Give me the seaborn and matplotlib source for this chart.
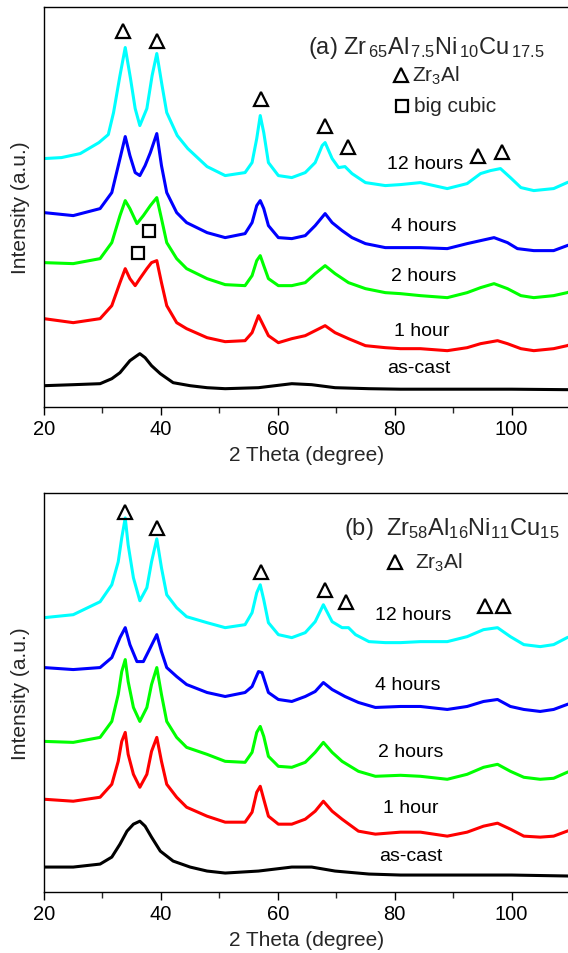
import numpy as np
import pandas as pd
import matplotlib
matplotlib.use("Agg")
import matplotlib.pyplot as plt
import seaborn as sns

# ---------------- data ----------------
# Panel (a) Zr65Al7.5Ni10Cu17.5 ; intensities in arbitrary units (stacked)
a_12h_t = [20.0, 23.0, 26.2, 29.4, 31.0, 31.9, 33.0, 33.9, 34.8, 35.6, 36.4, 37.6, 38.5, 39.3, 40.2, 41.0, 42.8, 44.6, 47.9,
           51.0, 54.4, 55.6, 56.4, 57.0, 57.6, 58.4, 60.1, 62.4, 64.7, 66.4, 67.6, 68.1, 69.3, 70.4, 71.5, 72.7, 75.0, 78.4,
           81.0, 84.4, 89.0, 92.4, 94.7, 96.4, 98.1, 99.8, 101.6, 103.8, 107.2, 109.5, 110.0]
a_12h_i = [248, 249, 253, 264, 272, 294, 331, 359, 328, 298, 281, 298, 331, 353, 321, 294, 271, 258, 240,
           231, 234, 244, 268, 291, 274, 244, 231, 229, 234, 244, 261, 264, 248, 239, 240, 233, 224, 221,
           222, 224, 218, 223, 233, 236, 238, 229, 219, 216, 218, 224, 225]

a_4h_t = [20.0, 25.0, 29.6, 31.6, 33.0, 33.9, 34.7, 35.6, 36.4, 37.3, 38.2, 39.3, 40.1, 41.0, 42.7, 44.4, 47.9,
          51.0, 54.4, 55.6, 56.4, 57.0, 57.6, 58.4, 60.1, 62.4, 64.7, 66.4, 68.1, 69.3, 71.0, 72.7, 75.0, 78.4,
          81.0, 84.4, 89.0, 92.4, 94.7, 97.0, 99.3, 101.0, 103.8, 107.2, 109.5, 110.0]
a_4h_i = [194, 191, 198, 214, 248, 270, 251, 234, 231, 241, 254, 273, 241, 214, 194, 184, 174,
          169, 173, 184, 201, 206, 198, 181, 169, 168, 171, 181, 193, 184, 176, 169, 163, 159,
          159, 159, 158, 163, 166, 169, 164, 158, 156, 156, 161, 162]

a_2h_t = [20.0, 25.0, 29.6, 31.6, 33.0, 33.9, 34.7, 35.9, 37.0, 38.2, 39.3, 40.1, 41.0, 42.7, 44.4, 47.9,
          51.0, 54.4, 55.6, 56.4, 57.0, 57.6, 58.4, 60.1, 62.4, 64.7, 66.4, 68.1, 69.8, 72.1, 75.0, 78.4,
          81.0, 84.4, 89.0, 92.4, 94.7, 97.0, 99.3, 101.6, 103.8, 107.2, 109.5, 110.0]
a_2h_i = [144, 143, 148, 164, 191, 206, 198, 183, 191, 201, 209, 188, 164, 148, 138, 128,
          122, 121, 131, 146, 151, 141, 128, 121, 121, 124, 133, 141, 133, 124, 118, 114,
          113, 111, 109, 114, 119, 123, 118, 111, 109, 111, 114, 115]

a_1h_t = [20.0, 25.0, 29.6, 31.6, 33.0, 33.9, 34.7, 35.6, 36.4, 37.6, 38.4, 39.3, 40.1, 41.0, 42.7, 44.4, 47.9,
          51.0, 54.4, 55.6, 56.7, 57.3, 58.4, 60.1, 62.4, 64.7, 66.4, 68.1, 69.8, 72.1, 75.0, 78.4,
          81.0, 84.4, 89.0, 92.4, 94.7, 97.6, 99.3, 101.6, 103.8, 107.2, 109.5, 110.0]
a_1h_i = [88, 84, 88, 101, 124, 138, 128, 121, 128, 138, 144, 146, 124, 101, 84, 78, 69,
          65, 66, 74, 91, 84, 71, 64, 68, 71, 76, 81, 74, 68, 61, 59,
          58, 58, 56, 59, 63, 66, 63, 58, 56, 58, 61, 62]

a_cast_t = [20.0, 25.0, 29.6, 31.6, 33.0, 34.7, 35.9, 36.4, 37.3, 38.4, 39.9, 42.1, 45.0, 47.9,
            51.0, 56.7, 62.4, 65.8, 69.8, 75.6, 81.0, 90.0, 100.0, 110.0]
a_cast_i = [21, 22, 23, 28, 34, 46, 51, 53, 49, 41, 33, 24, 21, 19,
            18, 19, 23, 22, 19, 18, 17.5, 17.5, 17.5, 17]

# Panel (b) Zr58Al16Ni11Cu15
b_12h_t = [20.0, 25.0, 29.6, 31.6, 32.7, 33.3, 33.9, 34.4, 35.3, 36.4, 37.6, 38.4, 39.3, 40.1, 41.0, 42.7, 44.4, 47.9,
           51.0, 54.4, 55.6, 56.4, 57.0, 57.6, 58.4, 60.1, 62.4, 64.7, 66.4, 67.8, 69.3, 71.0, 72.1, 73.3, 75.6, 78.4,
           81.0, 84.4, 89.0, 92.4, 95.2, 97.6, 99.8, 102.1, 104.9, 107.2, 109.5, 110.0]
b_12h_i = [275, 278, 291, 308, 331, 355, 375, 348, 315, 292, 305, 331, 354, 325, 298, 285, 276, 270,
           265, 268, 280, 300, 308, 293, 270, 258, 255, 260, 271, 288, 271, 265, 265, 258, 251, 250,
           250, 251, 251, 256, 263, 265, 256, 248, 246, 248, 255, 256]

b_4h_t = [20.0, 25.0, 29.6, 31.6, 33.0, 33.9, 34.7, 35.9, 37.0, 38.2, 39.3, 40.1, 41.0, 42.7, 44.4, 47.9,
          51.0, 54.4, 55.6, 56.7, 57.3, 58.4, 60.1, 62.4, 64.7, 66.4, 67.8, 69.3, 71.5, 73.8, 76.7,
          81.0, 84.4, 89.0, 92.4, 95.2, 97.6, 99.8, 102.1, 104.9, 107.2, 109.5, 110.0]
b_4h_i = [225, 223, 225, 235, 255, 265, 248, 231, 231, 245, 258, 241, 225, 216, 208, 200,
          196, 200, 206, 221, 220, 200, 193, 191, 196, 201, 210, 203, 196, 190, 185,
          186, 186, 183, 186, 191, 193, 186, 183, 181, 183, 188, 189]

b_2h_t = [20.0, 25.0, 29.6, 31.6, 32.7, 33.3, 33.9, 34.4, 35.3, 36.4, 37.6, 38.4, 39.3, 40.1, 41.0, 42.7, 44.4, 47.9,
          51.0, 54.4, 55.6, 56.4, 57.0, 57.6, 58.4, 60.1, 62.4, 64.7, 66.4, 67.8, 69.3, 71.0, 73.8, 76.7,
          81.0, 84.4, 89.0, 92.4, 95.2, 97.6, 99.8, 102.1, 104.9, 107.2, 109.5, 110.0]
b_2h_i = [151, 150, 155, 171, 198, 221, 233, 211, 185, 171, 185, 208, 225, 198, 171, 155, 145, 138,
          131, 130, 140, 160, 166, 156, 136, 126, 125, 130, 140, 150, 140, 131, 121, 116,
          117, 116, 113, 118, 125, 128, 121, 115, 113, 114, 120, 121]

b_1h_t = [20.0, 25.0, 29.6, 31.6, 32.7, 33.3, 33.9, 34.4, 35.3, 36.4, 37.6, 38.4, 39.3, 40.1, 41.0, 42.7, 44.4, 47.9,
          51.0, 54.4, 55.6, 56.4, 57.0, 57.6, 58.4, 60.1, 62.4, 64.7, 66.4, 67.8, 69.3, 71.0, 73.8, 76.7,
          81.0, 84.4, 89.0, 92.4, 95.2, 97.6, 99.8, 102.1, 104.9, 107.2, 109.5, 110.0]
b_1h_i = [93, 91, 95, 108, 131, 151, 160, 138, 118, 105, 118, 141, 155, 131, 108, 95, 85, 76,
          70, 70, 80, 100, 106, 93, 76, 68, 68, 73, 81, 91, 81, 73, 61, 58,
          60, 60, 56, 60, 66, 69, 63, 56, 55, 56, 61, 62]

b_cast_t = [20.0, 25.0, 29.6, 31.6, 33.0, 34.2, 35.3, 36.4, 37.3, 38.4, 39.9, 42.1, 45.0, 47.9,
            51.0, 56.7, 62.4, 65.8, 69.8, 75.6, 81.0, 90.0, 100.0, 110.0]
b_cast_i = [25, 25, 28, 35, 48, 61, 68, 71, 66, 55, 41, 31, 25, 21,
            19, 21, 25, 25, 21, 18, 17, 17, 17, 16]

series_names = ["12 hours", "4 hours", "2 hours", "1 hour", "as-cast"]
series_colors = ["#00FFFF", "#0000FF", "#00FF00", "#FF0000", "#000000"]

# curve labels: (text, 2theta centre, intensity)
a_labels = [("12 hours", 85.2, 243), ("4 hours", 85.0, 181), ("2 hours", 85.0, 131),
            ("1 hour", 84.7, 76), ("as-cast", 84.1, 39)]
b_labels = [("12 hours", 83.2, 278), ("4 hours", 82.3, 208), ("2 hours", 82.7, 141),
            ("1 hour", 82.7, 85), ("as-cast", 82.8, 37)]

# phase markers (Zr3Al triangles, big-cubic squares)
a_tri_t = [33.6, 39.4, 57.2, 68.1, 72.0, 94.3, 98.3]
a_tri_i = [376, 366, 308, 281, 260, 251, 255]
a_sq_t = [38.0, 36.0]
a_sq_i = [176, 154]
b_tri_t = [33.8, 39.4, 57.2, 68.1, 71.6, 95.5, 98.6]
b_tri_i = [381, 365, 321, 303, 291, 287, 287]

# ---------------- style ----------------
sns.set_theme(style="ticks")
plt.rcParams["font.family"] = ["Liberation Sans", "DejaVu Sans"]
plt.rcParams["mathtext.fontset"] = "custom"
plt.rcParams["mathtext.rm"] = "Liberation Sans"
plt.rcParams["mathtext.it"] = "Liberation Sans:italic"
plt.rcParams["mathtext.bf"] = "Liberation Sans:bold"

W, H = 568, 954
fig = plt.figure(figsize=(W / 100, H / 100), dpi=100)
fig.patch.set_facecolor("white")

def px_axes(left, top, right, bottom):
    return fig.add_axes([left / W, 1 - bottom / H, (right - left) / W, (bottom - top) / H])

ax_a = px_axes(44, 7.5, 570, 407.7)
ax_b = px_axes(44, 494, 570, 893)


def long_frame(ts, ys):
    rows = []
    for name, t, y in zip(series_names, ts, ys):
        rows.append(pd.DataFrame({"theta": t, "intensity": y, "sample": name}))
    return pd.concat(rows, ignore_index=True)


df_a = long_frame([a_12h_t, a_4h_t, a_2h_t, a_1h_t, a_cast_t],
                  [a_12h_i, a_4h_i, a_2h_i, a_1h_i, a_cast_i])
df_b = long_frame([b_12h_t, b_4h_t, b_2h_t, b_1h_t, b_cast_t],
                  [b_12h_i, b_4h_i, b_2h_i, b_1h_i, b_cast_i])

pal = dict(zip(series_names, series_colors))

for ax, df, labels, tri_t, tri_i in [(ax_a, df_a, a_labels, a_tri_t, a_tri_i),
                                     (ax_b, df_b, b_labels, b_tri_t, b_tri_i)]:
    sns.lineplot(data=df, x="theta", y="intensity", hue="sample", palette=pal,
                 estimator=None, sort=False, linewidth=2.2, legend=False, ax=ax)
    ax.set_xlim(20, 110)
    ax.set_ylim(0, 400)
    ax.set_yticks([])
    ax.set_xticks([20, 40, 60, 80, 100])
    ax.set_xticks(np.arange(30, 111, 20), minor=True)
    ax.tick_params(axis="x", which="major", direction="out", length=6, width=1.0,
                   labelsize=14.5, pad=3, colors="black")
    ax.tick_params(axis="x", which="minor", direction="out", length=4, width=1.0)
    for s in ax.spines.values():
        s.set_linewidth(1.0)
        s.set_color("black")
    ax.set_xlabel("2 Theta (degree)", fontsize=15, labelpad=5)
    ax.set_ylabel("Intensity (a.u.)", fontsize=15, va="center")
    ax.yaxis.set_label_coords(-24 / 526, 0.5)
    for txt, t, y in labels:
        ax.text(t, y, txt, fontsize=14, ha="center", va="center", color="black")
    ax.plot(tri_t, tri_i, linestyle="none", marker="^", ms=10, mfc="none",
            mec="black", mew=1.6)

ax_a.plot(a_sq_t, a_sq_i, linestyle="none", marker="s", ms=8.5, mfc="none",
          mec="black", mew=1.6)

# legends / titles
ax_a.text(65.1, 360, r"(a) Zr$_{\,65}$Al$_{\,7.5}$Ni$_{\,10}$Cu$_{\,17.5}$",
          fontsize=17, ha="left", va="center")
ax_a.plot([81.0], [332], linestyle="none", marker="^", ms=10, mfc="none", mec="black", mew=1.6)
ax_a.text(83.0, 332, r"Zr$_3$Al", fontsize=15, ha="left", va="center")
ax_a.plot([81.2], [301], linestyle="none", marker="s", ms=8.5, mfc="none", mec="black", mew=1.6)
ax_a.text(83.3, 301, "big cubic", fontsize=15, ha="left", va="center")

ax_b.text(71.3, 365, r"(b)  Zr$_{58}$Al$_{16}$Ni$_{11}$Cu$_{15}$",
          fontsize=17, ha="left", va="center")
ax_b.plot([80.1], [331], linestyle="none", marker="^", ms=10, mfc="none", mec="black", mew=1.6)
ax_b.text(83.4, 331, r"Zr$_3$Al", fontsize=15, ha="left", va="center")

fig.savefig("out.png", dpi=100, facecolor="white")
